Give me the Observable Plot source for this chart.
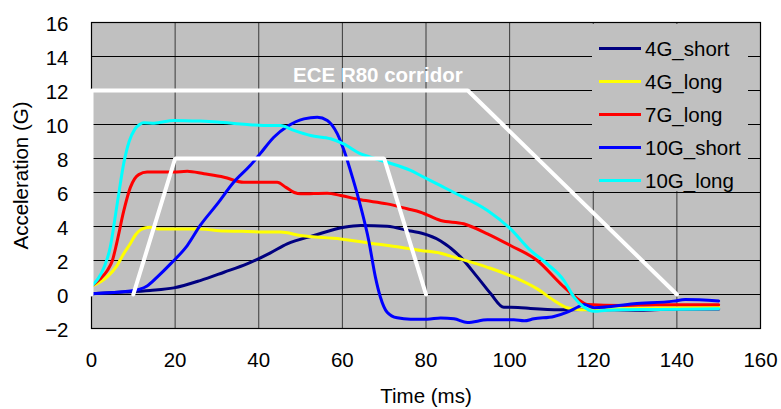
<!DOCTYPE html>
<html>
<head>
<meta charset="utf-8">
<script src="https://cdn.jsdelivr.net/npm/d3@7"></script>
<script src="https://cdn.jsdelivr.net/npm/@observablehq/plot@0.6"></script>
<style>
  html, body { margin: 0; padding: 0; background: #fff; }
  #wrap { position: relative; width: 781px; height: 409px; font-family: "Liberation Sans", Arial, sans-serif; }
  #legend { position: absolute; left: 592px; top: 24px; width: 156px; height: 167px; background: #c0c0c0; padding-top: 8px; box-sizing: border-box; }
  .row { height: 33px; display: flex; align-items: center; }
  .sw { width: 42px; height: 3px; margin-left: 7px; margin-right: 4px; }
  .lab { font-size: 20.5px; color: #000; line-height: 33px; white-space: nowrap; }
</style>
</head>
<body>
<div id="wrap"><div id="legend"></div></div>
<script>
// Sled deceleration pulses (time in ms, acceleration in G)
const seriesNames = ["4G_short", "4G_long", "7G_long", "10G_short", "10G_long"];
const seriesColors = ["#000080", "#ffff00", "#ff0000", "#0000ff", "#00ffff"];

const t4GShort = [0, 7.7, 14, 19.7, 26, 31.7, 37.2, 42.8, 46.8, 53.2, 60.4, 64.4, 70.7, 76.3, 79, 83.5, 88.3, 92.3, 95.5, 98.6, 102, 105, 112, 117, 125, 132, 140, 150];
const a4GShort = [0.05, 0.14, 0.24, 0.39, 0.82, 1.31, 1.8, 2.45, 2.98, 3.47, 3.96, 4.06, 4.02, 3.73, 3.6, 3.15, 2.2, 1.02, 0.04, -0.75, -0.76, -0.82, -0.9, -0.88, -0.9, -0.92, -0.85, -0.85];

const t4GLong = [0, 2.2, 4, 6.1, 7.7, 9.3, 10.5, 11.7, 13, 14, 16, 20.6, 26, 31.7, 36, 42.8, 45.2, 50, 59.6, 66.7, 73.9, 78.7, 83.5, 86.7, 94.7, 101, 106.6, 110.6, 113.8, 117, 125, 135, 150];
const a4GLong = [0.5, 0.75, 1.1, 1.7, 2.4, 3.0, 3.5, 3.8, 3.93, 3.96, 3.85, 3.86, 3.86, 3.73, 3.72, 3.67, 3.67, 3.47, 3.27, 3.02, 2.78, 2.59, 2.43, 2.2, 1.6, 1.02, 0.33, -0.35, -0.78, -0.9, -0.85, -0.8, -0.75];

const t7GLong = [0, 2, 3.75, 5, 6.1, 7.7, 9.3, 10.3, 11.3, 13.3, 19.7, 22.9, 26.9, 31.7, 36.4, 40.4, 44.4, 46.5, 48.5, 50, 56.4, 59.6, 64.4, 70.7, 75.5, 78.7, 83.5, 89, 94.7, 100.2, 106.6, 112.2, 116.2, 118.6, 126.6, 135, 140, 150];
const a7GLong = [0.5, 0.9, 1.4, 2.0, 3.1, 4.9, 6.3, 6.8, 7.05, 7.2, 7.2, 7.25, 7.1, 6.9, 6.6, 6.6, 6.6, 6.3, 6.0, 5.92, 5.96, 5.82, 5.57, 5.33, 5.04, 4.84, 4.35, 4.16, 3.57, 2.88, 2.0, 0.63, -0.25, -0.59, -0.65, -0.6, -0.6, -0.6];

const t10GShort = [0, 9.3, 13.3, 15.7, 18.9, 22.9, 26, 30.1, 34, 38, 40.4, 43.6, 46.8, 50.8, 54, 56.4, 58.8, 60.4, 62.4, 64.4, 66.3, 67.9, 69.1, 70.7, 73.1, 76.3, 80.3, 83.5, 86.7, 89.9, 94.7, 101, 103.5, 105.8, 110.6, 113.8, 116.2, 117.8, 120.2, 129.7, 139.2, 142, 150];
const a10GShort = [0.05, 0.2, 0.5, 1.02, 1.8, 2.88, 4.06, 5.33, 6.6, 7.6, 8.3, 9.25, 9.88, 10.33, 10.43, 10.24, 9.45, 8.47, 6.9, 5.14, 3.18, 1.02, -0.16, -1.04, -1.37, -1.45, -1.45, -1.38, -1.43, -1.65, -1.49, -1.49, -1.55, -1.43, -1.29, -1.04, -0.75, -0.59, -0.78, -0.55, -0.39, -0.3, -0.38];

const t10GLong = [0, 1.5, 3, 4.5, 5.5, 6.5, 7.7, 9, 10.3, 11.5, 12.5, 15, 19.7, 26, 30, 37.2, 42.8, 45.2, 48.4, 52.4, 57.2, 60.3, 64.4, 66.7, 70.7, 76.3, 78.7, 83.5, 86.7, 94.7, 100.2, 105, 109, 113, 115.4, 117.8, 120.2, 123.4, 135, 150];
const a10GLong = [0.5, 0.9, 1.6, 2.8, 4.3, 5.9, 7.7, 9.0, 9.7, 10.0, 10.1, 10.08, 10.24, 10.2, 10.15, 10.0, 9.94, 9.94, 9.65, 9.35, 9.16, 8.86, 8.27, 8.08, 7.78, 7.3, 7.0, 6.4, 6.0, 4.94, 3.86, 2.59, 1.8, 0.82, -0.16, -0.75, -0.98, -0.92, -0.88, -0.84];

// ECE R80 corridor bounds
const outerT = [0, 0, 90, 140];
const outerA = [0, 12, 12, 0];
const innerT = [10, 20, 70, 80];
const innerA = [0, 8, 8, 0];
const corridorLabel = ["ECE R80 corridor"];
const corridorLabelT = [68.5];
const corridorLabelA = [12.9];

const xTicks = [0, 20, 40, 60, 80, 100, 120, 140, 160];
const yTicks = [-2, 0, 2, 4, 6, 8, 10, 12, 14, 16];

const seriesT = [t4GShort, t4GLong, t7GLong, t10GShort, t10GLong];
const seriesA = [a4GShort, a4GLong, a7GLong, a10GShort, a10GLong];

const rows = seriesNames.flatMap((name, i) =>
  seriesT[i].map((t, j) => ({series: name, t, a: seriesA[i][j]}))
);
const corridor = [
  ...outerT.map((t, j) => ({part: "outer", t, a: outerA[j]})),
  ...innerT.map((t, j) => ({part: "inner", t, a: innerA[j]}))
];
const labels = corridorLabel.map((text, j) => ({text, t: corridorLabelT[j], a: corridorLabelA[j]}));

const font = "'Liberation Sans', Arial, sans-serif";
const fs = 20.5;

const chart = Plot.plot({
  width: 781,
  height: 409,
  marginLeft: 91,
  marginRight: 21,
  marginTop: 22,
  marginBottom: 81,
  style: {fontFamily: font, background: "#fff", overflow: "visible"},
  x: {domain: [0, 160]},
  y: {domain: [-2, 16]},
  color: {domain: seriesNames, range: seriesColors},
  marks: [
    Plot.frame({fill: "#c0c0c0"}),
    Plot.gridX(xTicks, {stroke: "#3a3a3a", strokeOpacity: 1}),
    Plot.gridY(yTicks, {stroke: "#000", strokeOpacity: 1}),
    Plot.frame({stroke: "#000", strokeWidth: 1.2}),
    Plot.axisX({ticks: xTicks, tickSize: 0, tickPadding: 24, fontSize: fs, fill: "#000", label: null}),
    Plot.axisY({ticks: yTicks, tickSize: 0, tickPadding: 23, fontSize: fs, fill: "#000", label: null, dy: 2}),
    Plot.line(rows, {x: "t", y: "a", z: "series", stroke: "series", strokeWidth: 3, curve: "monotone-x"}),
    Plot.line(corridor, {x: "t", y: "a", z: "part", stroke: "#fff", strokeWidth: 4, strokeLinejoin: "miter"}),
    Plot.text(labels, {x: "t", y: "a", text: "text", fill: "#fff", fontSize: fs, fontWeight: "bold"}),
    Plot.text(["Time (ms)"], {text: d => d, frameAnchor: "bottom", lineAnchor: "middle", textAnchor: "middle", dy: 68, fontSize: fs, fill: "#000"}),
    Plot.text(["Acceleration (G)"], {text: d => d, frameAnchor: "left", lineAnchor: "middle", textAnchor: "middle", dx: -70, rotate: -90, fontSize: fs, fill: "#000"})
  ]
});

const wrap = document.getElementById("wrap");
wrap.insertBefore(chart, wrap.firstChild);

// Legend drawn over the plot area
const legend = document.getElementById("legend");
seriesNames.forEach((name, i) => {
  const row = document.createElement("div");
  row.className = "row";
  const sw = document.createElement("div");
  sw.className = "sw";
  sw.style.background = seriesColors[i];
  const lab = document.createElement("span");
  lab.className = "lab";
  lab.textContent = name;
  row.appendChild(sw);
  row.appendChild(lab);
  legend.appendChild(row);
});
</script>
</body>
</html>
